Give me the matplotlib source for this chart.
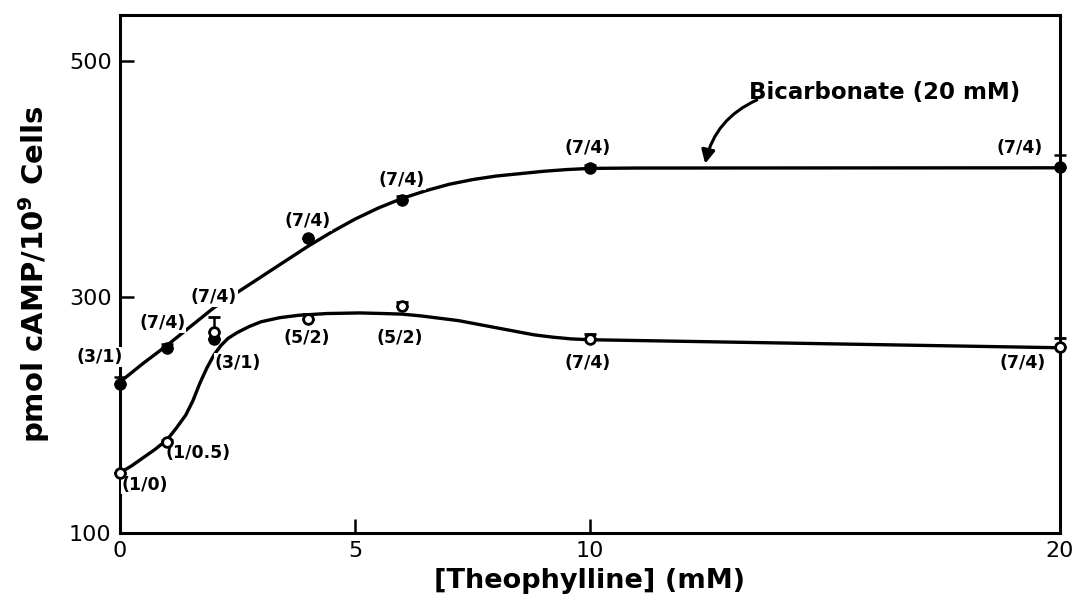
import matplotlib
matplotlib.use("Agg")
import matplotlib.pyplot as plt

# measured points (theophylline mM -> pmol cAMP / 10^9 cells)
theo = [0, 1, 2, 4, 6, 10, 20]
bicarb = [226, 257, 264, 350, 382, 409, 410]
bicarb_err = [6, 3, 0, 0, 4, 3, 10]
control = [151, 177, 270, 281, 292, 264, 258]
control_err = [0, 2, 13, 5, 4, 5, 7]

bicarb_labels = ["(3/1)", "(7/4)", "(7/4)", "(7/4)", "(7/4)", "(7/4)", "(7/4)"]
control_labels = ["(1/0)", "(1/0.5)", "(3/1)", "(5/2)", "(5/2)", "(7/4)", "(7/4)"]

# hand-drawn fitted curves
bicarb_curve_x = [0, 0.5, 1, 1.5, 2, 2.5, 3, 3.5, 4, 4.5, 5, 5.5, 6, 6.5, 7, 7.5,
                  8, 8.5, 9, 9.5, 10, 11, 20]
bicarb_curve_y = [228, 244, 259, 275, 291, 304, 317, 330, 343, 355, 366, 375.5, 383.5,
                  390, 395.5, 399.5, 402.5, 404.5, 406.5, 408, 409, 409.3, 409.5]
control_curve_x = [0, 0.25, 0.5, 0.75, 1, 1.2, 1.4, 1.55, 1.7, 1.85, 2.0, 2.15, 2.3,
                   2.5, 2.75, 3, 3.4, 3.8, 4.4, 5.1, 5.6, 6.0, 6.4, 6.8, 7.2, 7.6,
                   8.0, 8.4, 8.8, 9.2, 9.6, 10, 20]
control_curve_y = [151, 157, 164, 171, 179, 189, 200, 212, 227, 240, 251, 259, 265,
                   270, 275, 279, 282.5, 284.5, 286, 286.5, 286, 285.5, 284, 282,
                   280, 277, 274, 271, 268, 266, 264.5, 263.8, 257]

fig = plt.figure(figsize=(10.74, 6.01), dpi=100)
ax = fig.add_axes([120 / 1074, 1 - 533 / 601, 940 / 1074, 518 / 601])

ax.plot(bicarb_curve_x, bicarb_curve_y, color="black", lw=2.4, zorder=2,
        solid_capstyle="round", solid_joinstyle="round")
ax.plot(control_curve_x, control_curve_y, color="black", lw=2.4, zorder=2,
        solid_capstyle="round", solid_joinstyle="round")

# error bars only go up
ax.errorbar(theo, bicarb, yerr=[[0] * len(theo), bicarb_err], fmt="o", color="black",
            ms=8, capsize=4, elinewidth=1.8, capthick=1.8, zorder=4, clip_on=False)
ax.errorbar(theo, control, yerr=[[0] * len(theo), control_err], fmt="o", color="black",
            mfc="white", mew=2, ms=7, capsize=4, elinewidth=1.8, capthick=1.8,
            zorder=4, clip_on=False)

lab = dict(fontsize=12.5, fontweight="bold", zorder=3, ha="center", va="center",
           bbox=dict(facecolor="white", edgecolor="none", pad=0.5))
# label offsets (dx in mM, dy in pmol) from each point
bicarb_off = [(-0.43, 23), (-0.1, 21), (0, 36), (0, 14), (0, 17), (-0.05, 17), (-0.85, 16)]
for x, y, t, (dx, dy) in zip(theo, bicarb, bicarb_labels, bicarb_off):
    ax.text(x + dx, y + dy, t, **lab)
control_off = [(0.53, -10), (0.66, -9), (0.51, -26), (-0.02, -16), (-0.04, -27),
               (-0.04, -20), (-0.8, -14)]
for x, y, t, (dx, dy) in zip(theo, control, control_labels, control_off):
    ax.text(x + dx, y + dy, t, **lab)

ax.text(16.26, 473, "Bicarbonate (20 mM)", fontsize=16.5, fontweight="bold",
        ha="center", va="center")
ax.annotate("", xy=(12.45, 413), xytext=(13.55, 467),
            arrowprops=dict(arrowstyle="-|>", color="black", lw=2.2,
                            mutation_scale=20, shrinkA=0, shrinkB=0,
                            connectionstyle="arc3,rad=0.25"))

ax.set_xlim(0, 20)
ax.set_ylim(100, 539)
ax.set_xticks([0, 5, 10, 20])
ax.set_yticks([100, 300, 500])
ax.tick_params(direction="in", length=10, width=1.8, labelsize=16, pad=6)
for s in ax.spines.values():
    s.set_linewidth(2.2)

ax.set_xlabel("[Theophylline] (mM)", fontsize=19.5, fontweight="bold", labelpad=5)
ax.set_ylabel("pmol cAMP/10$^{\\mathbf{9}}$ Cells", fontsize=21, fontweight="bold", labelpad=12)

fig.savefig("out.png", dpi=100)
